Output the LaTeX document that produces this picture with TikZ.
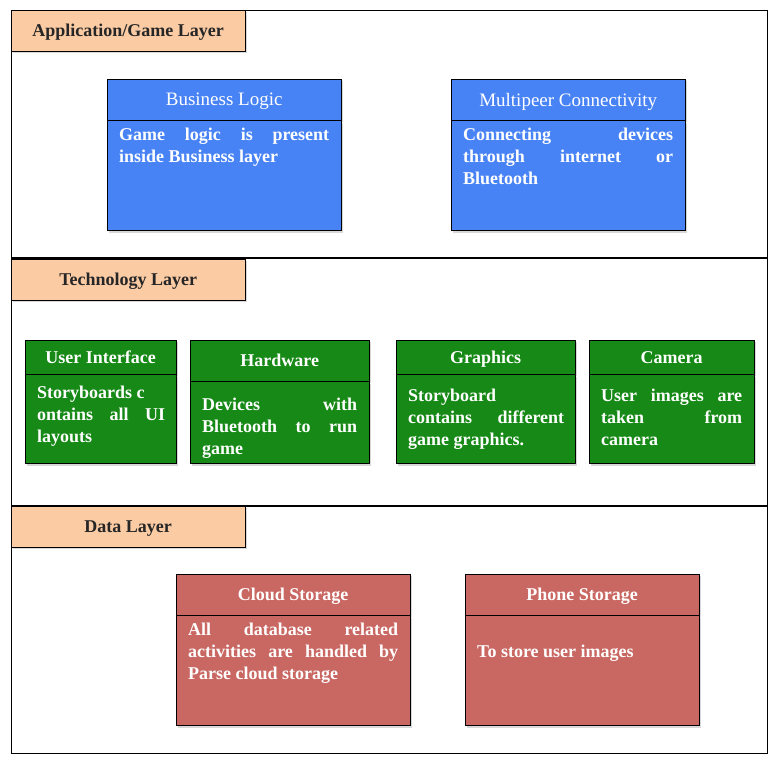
\documentclass[tikz,border=0pt]{standalone}
\usepackage{fontspec}
\setmainfont{Liberation Serif}
\usetikzlibrary{positioning,shadows}
\definecolor{tabpeach}{RGB}{251,203,164}
\definecolor{boxblue}{RGB}{72,131,245}
\definecolor{boxgreen}{RGB}{22,137,22}
\definecolor{boxred}{RGB}{201,103,98}
\newcommand{\boxfont}{\fontsize{18}{22}\selectfont}
\hyphenpenalty=10000
\exhyphenpenalty=10000
\tolerance=10000
\tikzset{
layer/.style={draw, line width=0.8pt, fill=white, anchor=north west, inner sep=0pt,
  minimum width=756pt, minimum height=247pt},
tab/.style={draw, fill=tabpeach, anchor=north west, minimum width=234pt,
  minimum height=41pt, font=\boxfont\bfseries, text=black!85, text depth=0pt,
  drop shadow={shadow xshift=1.5pt, shadow yshift=-1.5pt, opacity=0.3}},
head/.style={draw, fill=#1, text=white, minimum height=41pt, font=\boxfont,
  text depth=0pt,
  drop shadow={shadow xshift=1.5pt, shadow yshift=-2pt, opacity=0.3}},
body/.style={draw, fill=#1, minimum height=110pt,
  drop shadow={shadow xshift=1.5pt, shadow yshift=-2pt, opacity=0.3}},
desc/.style={text=white, inner sep=0pt, anchor=north west, align=justify,
  font=\boxfont\bfseries},
}
\begin{document}
\begin{tikzpicture}[x=1pt,y=-1pt]
\useasboundingbox (0,0) rectangle (778,764);
\node[layer] (app) at (11,10) {};
\node[layer] (tech) at (11,258) {};
\node[layer] (data) at (11,506) {};
\draw[line width=2.5pt] (tech.north west) -- (tech.north east);
\draw[line width=2.5pt] (data.north west) -- (data.north east);

\node[tab] (app tab) at (11,10) {Application/Game Layer};
\node[tab] (tech tab) at (11,259) {Technology Layer};
\node[tab] (data tab) at (11,506) {Data Layer};

% application layer
\node[head=boxblue, font=\fontsize{19}{22}\selectfont, minimum width=234pt, anchor=north west] (logic) at (107,79) {Business Logic};
\node[body=boxblue, minimum width=234pt, below=0pt of logic] (logic body) {};
\node[desc, text width=210pt] (logic text) at ([xshift=12pt,yshift=-7pt]logic body.north west)
  {Game logic is present\linebreak inside Business layer};

\node[head=boxblue, font=\fontsize{19}{22}\selectfont, minimum width=234pt, anchor=north west] (peer) at (451,79) {Multipeer Connectivity};
\node[body=boxblue, minimum width=234pt, below=0pt of peer] (peer body) {};
\node[desc, text width=210pt] (peer text) at ([xshift=12pt,yshift=-7pt]peer body.north west)
  {Connecting devices\linebreak through internet or\linebreak Bluetooth};

% technology layer
\node[head=boxgreen, font=\boxfont\bfseries, minimum width=151pt, minimum height=34pt,
  anchor=north west] (ui) at (25,340) {User Interface};
\node[body=boxgreen, minimum width=151pt, minimum height=89pt, below=0pt of ui] (ui body) {};
\node[desc, text width=128pt] (ui text) at ([xshift=12pt,yshift=-11pt]ui body.north west)
  {Storyboards c\newline ontains all UI\linebreak layouts};

\node[head=boxgreen, font=\boxfont\bfseries, minimum width=179pt, anchor=north west] (hw) at (190,340) {Hardware};
\node[body=boxgreen, minimum width=179pt, minimum height=82pt, below=0pt of hw] (hw body) {};
\node[desc, text width=155pt] (hw text) at ([xshift=12pt,yshift=-16pt]hw body.north west)
  {Devices with\linebreak Bluetooth to run\linebreak game};

\node[head=boxgreen, font=\boxfont\bfseries, minimum width=179pt, minimum height=34pt,
  anchor=north west] (gfx) at (396,340) {Graphics};
\node[body=boxgreen, minimum width=179pt, minimum height=89pt, below=0pt of gfx] (gfx body) {};
\node[desc, text width=156pt] (gfx text) at ([xshift=12pt,yshift=-14pt]gfx body.north west)
  {Storyboard\newline contains different\linebreak game graphics.};

\node[head=boxgreen, font=\boxfont\bfseries, minimum width=165pt, minimum height=34pt,
  anchor=north west] (cam) at (589,340) {Camera};
\node[body=boxgreen, minimum width=165pt, minimum height=89pt, below=0pt of cam] (cam body) {};
\node[desc, text width=141pt] (cam text) at ([xshift=12pt,yshift=-14pt]cam body.north west)
  {User images are\linebreak taken from\linebreak camera};

% data layer
\node[head=boxred, font=\boxfont\bfseries, minimum width=234pt, anchor=north west] (cloud) at (176,574) {Cloud Storage};
\node[body=boxred, minimum width=234pt, below=0pt of cloud] (cloud body) {};
\node[desc, text width=210pt] (cloud text) at ([xshift=12pt,yshift=-7pt]cloud body.north west)
  {All database related\linebreak activities are handled by\linebreak Parse cloud storage};

\node[head=boxred, font=\boxfont\bfseries, minimum width=234pt, anchor=north west] (phone) at (465,574) {Phone Storage};
\node[body=boxred, minimum width=234pt, below=0pt of phone] (phone body) {};
\node[desc, text width=210pt] (phone text) at ([xshift=12pt,yshift=-29pt]phone body.north west)
  {To store user images};
\end{tikzpicture}
\end{document}
